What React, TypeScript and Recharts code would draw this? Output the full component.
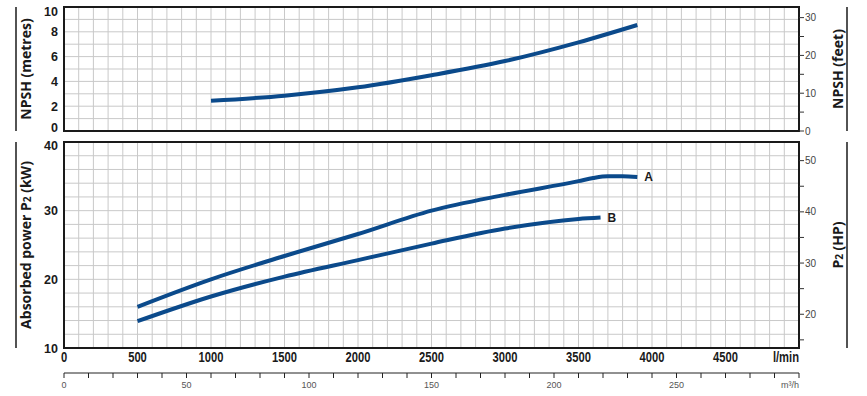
import React from 'react';
import { LineChart, Line, XAxis, YAxis, CartesianGrid, ReferenceArea, ReferenceDot } from 'recharts';

// NPSH curve (l/min -> metres)
const npshFlow = [1000, 1500, 2000, 2500, 3000, 3500, 3900];
const npshMetres = [2.44, 2.85, 3.52, 4.5, 5.64, 7.15, 8.55];

// absorbed power curves (l/min -> kW)
const flowA = [500, 1000, 1500, 2000, 2500, 3000, 3500, 3600, 3700, 3800, 3900];
const powerA = [16.0, 20.0, 23.4, 26.6, 30.0, 32.3, 34.3, 34.75, 35.0, 35.0, 34.9];
const flowB = [500, 1000, 1500, 2000, 2500, 3000, 3500, 3650];
const powerB = [13.9, 17.5, 20.4, 22.8, 25.2, 27.4, 28.8, 29.0];

const lpmLabels = [0, 500, 1000, 1500, 2000, 2500, 3000, 3500, 4000, 4500];
const m3hLabels = [0, 50, 100, 150, 200, 250];
const metreLabels = [0, 2, 4, 6, 8, 10];
const feetLabels = [0, 10, 20, 30];
const kwLabels = [10, 20, 30, 40];
const hpLabels = [20, 30, 40, 50];

const steps = (from: number, to: number, step: number) => {
  const out: number[] = [];
  for (let v = from; v <= to + 1e-9; v += step) out.push(Math.round(v * 100) / 100);
  return out;
};

const lpmGrid = steps(0, 5000, 100);
const m3hTicks = steps(0, 300, 10);
const metreGrid = steps(0, 10, 1);
const feetTicks = steps(0, 30, 5);
const kwGrid = steps(10, 40, 2);
const hpTicks = steps(15, 50, 5);

const FT_PER_M = 3.2808;
const HP_PER_KW = 1.341;

const npshData = npshFlow.map((q, i) => ({ q, m: npshMetres[i] }));
const dataA = flowA.map((q, i) => ({ q, kw: powerA[i] }));
const dataB = flowB.map((q, i) => ({ q, kw: powerB[i] }));
// l/min <-> m³/h conversion table for the second flow axis
const flowTable = lpmGrid.map((q) => ({ q, m3h: (q * 60) / 1000 }));

const BLUE = '#0b4a8b';
const GRID = '#c9c9c9';
const INK = '#1a1a1a';
const TITLE_FONT = '"Open Sans", "DejaVu Sans", sans-serif';
const TICK_FONT = '"Liberation Sans", Arial, sans-serif';

const leftTick = (labels: number[], nudge: Record<number, number>) => (props: any) => {
  const { x, y, payload } = props;
  const v = payload.value;
  if (!labels.includes(v)) return <g />;
  return (
    <text x={x} y={y + (nudge[v] || 0)} dy={4.5} textAnchor="end" fontFamily={TICK_FONT} fontWeight={700} fontSize={12.5} fill={INK}>
      {v}
    </text>
  );
};

const rightTick = (labels: number[]) => (props: any) => {
  const { x, y, payload } = props;
  const v = payload.value;
  if (!labels.includes(v)) return <g />;
  return (
    <text x={x} y={y} dy={3.5} textAnchor="start" fontFamily={TICK_FONT} fontSize={10} fill="#444">
      {v}
    </text>
  );
};

const LpmTick = (props: any) => {
  const { x, y, payload } = props;
  const v = payload.value;
  const isUnit = v === 5000;
  if (!isUnit && !lpmLabels.includes(v)) return <g />;
  return (
    <g transform={`translate(${x},${y + 14}) scale(0.8,1)`}>
      <text x={0} y={0} textAnchor={isUnit ? 'end' : 'middle'} fontFamily={TICK_FONT} fontWeight={700} fontSize={14} fill={INK}>
        {isUnit ? 'l/min' : v}
      </text>
    </g>
  );
};

const M3hTick = (props: any) => {
  const { x, y, payload } = props;
  const v = payload.value;
  const isUnit = v === 300;
  if (!isUnit && !m3hLabels.includes(v)) return <g />;
  return (
    <text x={x} y={y} dy={8} textAnchor={isUnit ? 'end' : 'middle'} fontFamily={TICK_FONT} fontSize={9} fill="#555">
      {isUnit ? 'm³/h' : v}
    </text>
  );
};

// rotated axis title plus the rule beside it
const sideTitle = (side: 'left' | 'right', content: React.ReactNode) => (props: any) => {
  const vb = props.viewBox || {};
  const cy = vb.y + vb.height / 2;
  const tx = side === 'left' ? vb.x + 31 : vb.x + 44;
  const lx = side === 'left' ? vb.x + 16 : vb.x + 48;
  return (
    <g>
      <line x1={lx} x2={lx} y1={vb.y} y2={vb.y + vb.height} stroke={INK} strokeWidth={1.5} />
      <text x={tx} y={cy} transform={`rotate(-90 ${tx} ${cy})`} textAnchor="middle" fontFamily={TITLE_FONT} fontWeight={700} fontSize={14} fill={INK}>
        {content}
      </text>
    </g>
  );
};

const endLabel = (text: string) => ({
  value: text,
  position: 'right' as const,
  offset: 6,
  fill: INK,
  fontFamily: TICK_FONT,
  fontWeight: 700,
  fontSize: 12,
});

const App: React.FC = () => {
  return (
    <div style={{ position: 'absolute', left: 0, top: 0, width: 867, height: 396, background: '#fff' }}>
      <div style={{ position: 'absolute', left: 0, top: 0 }}>
        <LineChart width={867} height={137} margin={{ top: 7, right: 28, left: 0, bottom: 6 }}>
          <CartesianGrid xAxisId="lpm" yAxisId="m" stroke={GRID} strokeWidth={1} />
          <XAxis xAxisId="lpm" type="number" dataKey="q" domain={[0, 5000]} ticks={lpmGrid} interval={0} hide />
          <YAxis
            yAxisId="m"
            type="number"
            domain={[0, 10]}
            ticks={metreGrid}
            interval={0}
            width={64}
            axisLine={false}
            tickLine={false}
            tickSize={0}
            tickMargin={6}
            tick={leftTick(metreLabels, { 10: 4, 0: -4 })}
            label={{ content: sideTitle('left', 'NPSH  (metres)') }}
          />
          <YAxis
            yAxisId="ft"
            orientation="right"
            type="number"
            domain={[0, 10 * FT_PER_M]}
            allowDataOverflow
            ticks={feetTicks}
            interval={0}
            width={40}
            axisLine={{ stroke: INK, strokeWidth: 2 }}
            tickLine={{ stroke: '#333' }}
            tickSize={5}
            tickMargin={1}
            tick={rightTick(feetLabels)}
            label={{ content: sideTitle('right', 'NPSH  (feet)') }}
          />
          <ReferenceArea xAxisId="lpm" yAxisId="m" x1={0} x2={5000} y1={0} y2={10} fill="none" stroke={INK} strokeWidth={2} />
          <Line
            xAxisId="lpm"
            yAxisId="m"
            data={npshData}
            dataKey="m"
            type="monotone"
            stroke={BLUE}
            strokeWidth={4}
            dot={false}
            isAnimationActive={false}
          />
        </LineChart>
      </div>
      <div style={{ position: 'absolute', left: 0, top: 135 }}>
        <LineChart width={867} height={261} data={flowTable} margin={{ top: 7, right: 28, left: 0, bottom: 0 }}>
          <CartesianGrid xAxisId="lpm" yAxisId="kw" stroke={GRID} strokeWidth={1} />
          <XAxis
            xAxisId="lpm"
            type="number"
            dataKey="q"
            domain={[0, 5000]}
            ticks={lpmGrid}
            interval={0}
            height={25}
            axisLine={false}
            tickLine={false}
            tickSize={0}
            tickMargin={0}
            tick={LpmTick}
          />
          <XAxis
            xAxisId="m3h"
            type="number"
            dataKey="m3h"
            domain={[0, 300]}
            allowDataOverflow
            ticks={m3hTicks}
            interval={0}
            height={23}
            axisLine={{ stroke: '#222' }}
            tickLine={{ stroke: '#222' }}
            tickSize={5}
            tickMargin={2}
            tick={M3hTick}
          />
          <YAxis
            yAxisId="kw"
            type="number"
            domain={[10, 40]}
            ticks={kwGrid}
            interval={0}
            width={64}
            axisLine={false}
            tickLine={false}
            tickSize={0}
            tickMargin={6}
            tick={leftTick(kwLabels, { 40: 3 })}
            label={{
              content: sideTitle('left', (
                <>
                  Absorbed power  P<tspan fontSize={10}>2</tspan>  (kW)
                </>
              )),
            }}
          />
          <YAxis
            yAxisId="hp"
            orientation="right"
            type="number"
            domain={[10 * HP_PER_KW, 40 * HP_PER_KW]}
            allowDataOverflow
            ticks={hpTicks}
            interval={0}
            width={40}
            axisLine={{ stroke: INK, strokeWidth: 2 }}
            tickLine={{ stroke: '#333' }}
            tickSize={5}
            tickMargin={1}
            tick={rightTick(hpLabels)}
            label={{
              content: sideTitle('right', (
                <>
                  P<tspan fontSize={10}>2</tspan>  (HP)
                </>
              )),
            }}
          />
          <ReferenceArea xAxisId="lpm" yAxisId="kw" x1={0} x2={5000} y1={10} y2={40} fill="none" stroke={INK} strokeWidth={2} />
          <Line
            xAxisId="lpm"
            yAxisId="kw"
            data={dataA}
            dataKey="kw"
            type="monotone"
            stroke={BLUE}
            strokeWidth={4}
            dot={false}
            isAnimationActive={false}
          />
          <Line
            xAxisId="lpm"
            yAxisId="kw"
            data={dataB}
            dataKey="kw"
            type="monotone"
            stroke={BLUE}
            strokeWidth={4}
            dot={false}
            isAnimationActive={false}
          />
          <ReferenceDot
            xAxisId="lpm"
            yAxisId="kw"
            x={flowA[flowA.length - 1]}
            y={powerA[powerA.length - 1]}
            r={1}
            fill="none"
            stroke="none"
            label={endLabel('A')}
          />
          <ReferenceDot
            xAxisId="lpm"
            yAxisId="kw"
            x={flowB[flowB.length - 1]}
            y={powerB[powerB.length - 1]}
            r={1}
            fill="none"
            stroke="none"
            label={endLabel('B')}
          />
        </LineChart>
      </div>
    </div>
  );
};

export default App;
